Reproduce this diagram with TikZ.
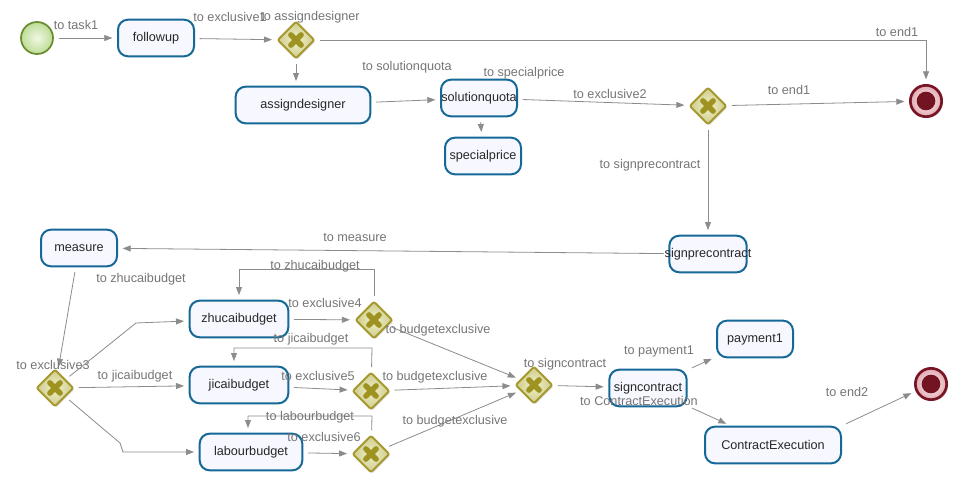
\documentclass[tikz,border=0pt]{standalone}
\usepackage{fontspec}
\setmainfont{Liberation Sans}
\usetikzlibrary{shapes.geometric,arrows.meta,shadows}
\definecolor{taskline}{RGB}{22,104,150}
\definecolor{taskfill}{RGB}{246,247,255}
\definecolor{tasktext}{RGB}{40,40,40}
\definecolor{lineg}{RGB}{140,140,140}
\definecolor{lblgray}{RGB}{118,118,118}
\definecolor{gwline}{RGB}{165,152,45}
\definecolor{gwin}{RGB}{240,240,200}
\definecolor{gwout}{RGB}{206,204,140}
\definecolor{gwcross}{RGB}{158,146,32}
\definecolor{startline}{RGB}{105,140,45}
\definecolor{startin}{RGB}{240,248,228}
\definecolor{startout}{RGB}{190,220,150}
\definecolor{endline}{RGB}{120,20,35}
\definecolor{endin}{RGB}{255,245,245}
\definecolor{endout}{RGB}{225,170,178}
\definecolor{enddot}{RGB}{115,20,35}
\newcommand\tname[1]{\makebox[0pt]{#1}}

\begin{document}
\begin{tikzpicture}[x=0.75pt,y=-0.75pt,
  every node/.style={font=\fontsize{9.5}{11}\selectfont},
  task/.style={draw=taskline, fill=taskfill, line width=1.5pt, rounded corners=7.5pt,
    minimum height=27.5pt, inner sep=0pt, text=tasktext},
  gw/.style={diamond, draw=gwline, line width=1.4pt, rounded corners=1.5pt,
    inner color=gwin, outer color=gwout,
    minimum width=28pt, minimum height=28pt, inner sep=0pt,
    drop shadow={shadow xshift=1pt, shadow yshift=-1pt, opacity=.25},
    path picture={\draw[gwcross, line width=4.2pt, line cap=round]
      (path picture bounding box.center) ++(-3.8pt,-3.8pt) -- ++(7.6pt,7.6pt)
      (path picture bounding box.center) ++(-3.8pt,3.8pt) -- ++(7.6pt,-7.6pt);}},
  startev/.style={circle, draw=startline, line width=1.3pt, inner color=startin,
    outer color=startout, minimum size=24pt, inner sep=0pt},
  endev/.style={circle, draw=endline, line width=2pt, inner color=endin, outer color=endout,
    minimum size=23.5pt, inner sep=0pt,
    drop shadow={shadow xshift=1pt, shadow yshift=-1pt, opacity=.25},
    path picture={\fill[enddot] (path picture bounding box.center) circle (7pt);}},
  flow/.style={draw=lineg, line width=.6pt, -{Triangle[length=6pt,width=4.5pt]},
    shorten <=3.5pt, shorten >=3.5pt},
  lbl/.style={text=lblgray, inner sep=0pt}]

\fill[white] (0,0) rectangle (962,478);
\useasboundingbox (0,0) rectangle (962,478);

\node[startev] (start) at (37,38) {};
\node[task, minimum width=57pt] (followup) at (156,38) {\tname{followup}};
\node[gw] (exclusive1) at (296,40) {};
\node[task, minimum width=101pt] (assigndesigner) at (303,105) {\tname{assigndesigner}};
\node[task, minimum width=57pt] (solutionquota) at (479,98) {\tname{solutionquota}};
\node[task, minimum width=57pt] (specialprice) at (483,156) {\tname{specialprice}};
\node[gw] (exclusive2) at (708,106) {};
\node[endev] (end1) at (926,101) {};
\node[task, minimum width=58pt] (signprecontract) at (708,254) {\tname{signprecontract}};
\node[task, minimum width=57pt] (measure) at (79,248) {\tname{measure}};
\node[gw] (exclusive3) at (55,388) {};
\node[task, minimum width=74pt] (zhucaibudget) at (239,319) {\tname{zhucaibudget}};
\node[task, minimum width=74pt] (jicaibudget) at (239,385) {\tname{jicaibudget}};
\node[task, minimum width=77pt] (labourbudget) at (251,452) {\tname{labourbudget}};
\node[gw] (exclusive4) at (374,320) {};
\node[gw] (exclusive5) at (371,391) {};
\node[gw] (exclusive6) at (371,454) {};
\node[gw] (budgetexclusive) at (534,385) {};
\node[task, minimum width=58pt] (signcontract) at (648,388) {\tname{signcontract}};
\node[task, minimum width=57pt] (payment1) at (755,339) {\tname{payment1}};
\node[task, minimum width=102pt] (ContractExecution) at (773,445) {\tname{ContractExecution}};
\node[endev] (end2) at (931,384) {};

\draw[flow] (start) -- (followup) node[lbl] at (76,25) {to task1};
\draw[flow] (followup) -- (exclusive1) node[lbl] at (230,17) {to exclusive1};
\draw[flow] (exclusive1) -- (end1.north |- exclusive1.east) -- (end1) node[lbl] at (897,32) {to end1};
\draw[flow] (exclusive1) -- (exclusive1 |- assigndesigner.north) node[lbl] at (310,17) {to assigndesigner};
\draw[flow] (assigndesigner) -- (solutionquota) node[lbl] at (407,67) {to solutionquota};
\draw[flow] (solutionquota) -- (specialprice) node[lbl] at (524,73) {to specialprice};
\draw[flow] (solutionquota) -- (exclusive2) node[lbl] at (610,94) {to exclusive2};
\draw[flow] (exclusive2) -- (end1) node[lbl] at (789,90) {to end1};
\draw[flow] (exclusive2) -- (signprecontract) node[lbl] at (650,165) {to signprecontract};
\draw[flow] (signprecontract) -- (measure) node[lbl] at (355,237) {to measure};
\draw[flow] (measure) -- (exclusive3) node[lbl] at (53,365) {to exclusive3};
\draw[flow] (exclusive3) -- (136,323) -- (zhucaibudget) node[lbl] at (141,279) {to zhucaibudget};
\draw[flow] (exclusive3) -- (jicaibudget) node[lbl] at (135,376) {to jicaibudget};
\draw[flow] (exclusive3) -- (120,443) -- (123,452) -- (labourbudget);
\draw[flow] (zhucaibudget) -- (exclusive4) node[lbl] at (325,303) {to exclusive4};
\draw[flow] (exclusive4) -- (374,269) -- (239,269) -- (zhucaibudget) node[lbl] at (315,266) {to zhucaibudget};
\draw[flow] (exclusive4) -- (budgetexclusive) node[lbl] at (438,330) {to budgetexclusive};
\draw[flow] (jicaibudget) -- (exclusive5) node[lbl] at (318,376) {to exclusive5};
\draw[flow] (exclusive5) -- (372,348) -- (234,348) -- (jicaibudget.north -| 234,348) node[lbl] at (311,339) {to jicaibudget};
\draw[flow] (exclusive5) -- (budgetexclusive) node[lbl] at (435,377) {to budgetexclusive};
\draw[flow] (labourbudget) -- (exclusive6) node[lbl] at (324,437) {to exclusive6};
\draw[flow] (exclusive6) -- (372,416) -- (248,416) -- (labourbudget.north -| 248,416) node[lbl] at (310,417) {to labourbudget};
\draw[flow] (exclusive6) -- (budgetexclusive) node[lbl] at (455,421) {to budgetexclusive};
\draw[flow] (budgetexclusive) -- (signcontract) node[lbl] at (565,364) {to signcontract};
\draw[flow] (signcontract) -- (payment1) node[lbl] at (659,351) {to payment1};
\draw[flow] (signcontract) -- (ContractExecution) node[lbl] at (639,401) {to ContractExecution};
\draw[flow] (ContractExecution.north east) -- (end2) node[lbl] at (847,392) {to end2};
\end{tikzpicture}
\end{document}
